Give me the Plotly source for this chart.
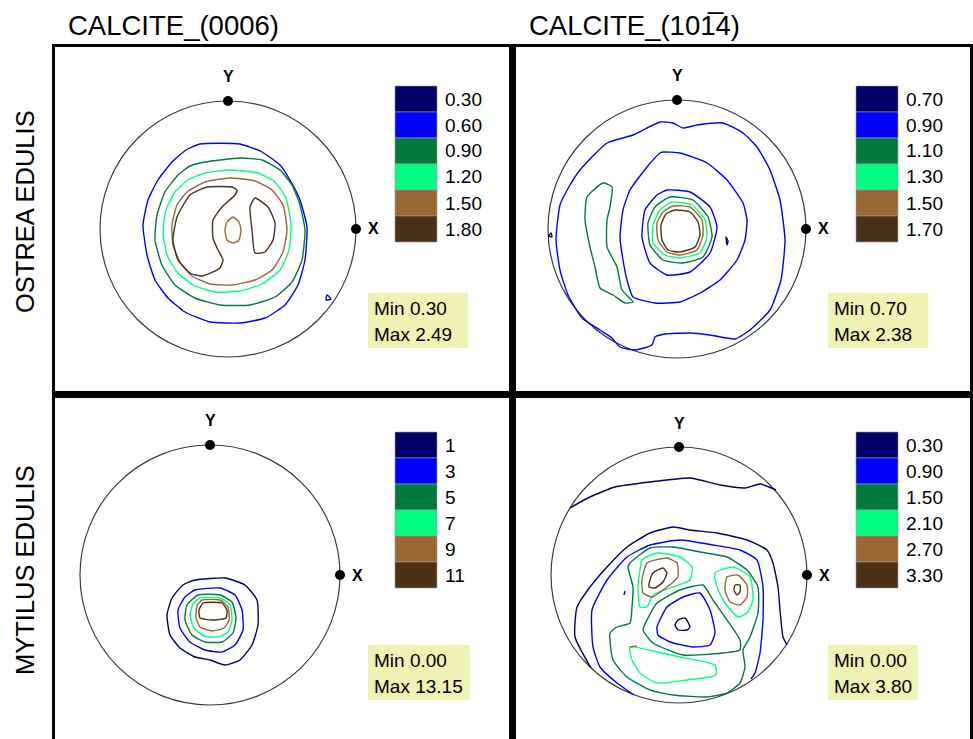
import plotly.graph_objects as go

W, H = 973, 739

# ---------------- DATA ----------------
TITLES = ["CALCITE_(0006)", "CALCITE_(101\u03054)"]
ROWS = ["OSTREA EDULIS", "MYTILUS EDULIS"]
LEVEL_COLORS = ["#000066", "#0000ff", "#007a3d", "#00ff80", "#9a6633", "#4a3219"]

ostrea_0006_levels = ["0.30", "0.60", "0.90", "1.20", "1.50", "1.80"]
ostrea_1014_levels = ["0.70", "0.90", "1.10", "1.30", "1.50", "1.70"]
mytilus_0006_levels = ["1", "3", "5", "7", "9", "11"]
mytilus_1014_levels = ["0.30", "0.90", "1.50", "2.10", "2.70", "3.30"]

ostrea_0006_minmax = ("0.30", "2.49")
ostrea_1014_minmax = ("0.70", "2.38")
mytilus_0006_minmax = ("0.00", "13.15")
mytilus_1014_minmax = ("0.00", "3.80")

# contour vertices: (x, y) in projection units (circle radius = READ_R)
# ---- Ostrea edulis, (0006)
o06_l1 = [(-28,85),(12,85),(34,77),(52,64),(62,49),(72,29),(79,2),(77,-31),(70,-56),(57,-76),(37,-89),(12,-94),
          (-18,-93),(-43,-83),(-60,-69),(-73,-51),(-81,-26),(-85,4),(-80,29),(-70,49),(-56,67),(-42,79)]
o06_l1b = [(99,-66),(103,-70),(98,-71)]
o06_l2 = [(-23,67),(12,71),(34,69),(52,59),(64,44),(72,24),(77,-1),(74,-31),(64,-53),(47,-68),(22,-76),(-8,-76),
          (-33,-69),(-53,-56),(-66,-36),(-73,-11),(-71,14),(-63,37),(-50,54),(-38,63)]
o06_l3 = [(-23,56),(2,59),(30,56),(47,47),(58,31),(63,4),(61,-21),(52,-41),(34,-55),(12,-62),(-13,-63),(-35,-56),
          (-51,-43),(-61,-26),(-65,-3),(-62,19),(-53,37),(-40,49)]
o06_l4 = [(-23,47),(2,51),(27,48),(44,39),(55,24),(59,-1),(55,-23),(44,-41),(27,-51),(4,-56),(-18,-55),(-36,-47),
          (-48,-33),(-55,-16),(-56,4),(-51,24),(-41,37)]
o06_l4b = [(5,12),(11,7),(13,-1),(11,-11),(5,-14),(-1,-11),(-3,-1),(-1,7)]
o06_l5a = [(4,42),(-21,42),(-38,34),(-51,12),(-55,-11),(-50,-31),(-38,-44),(-26,-47),(-8,-39),(-5,-31),(-10,-21),
           (-15,-9),(-15,9),(-6,22),(7,34),(9,39)]
o06_l5b = [(27,31),(40,22),(47,6),(45,-11),(37,-23),(27,-24),(24,-1),(22,22)]

# ---- Ostrea edulis, (10-14)
o14_l1a = [(49,-8),(51,-12),(50,-16)]
o14_l1b = [(-126,-4),(-128,-7),(-125,-8)]
o14_l2a = [(-97,59),(-70,86),(-44,94),(-17,107),(-4,106),(6,101),(20,104),(46,106),(66,96),(80,82),(93,59),(103,29),
           (108,-11),(104,-51),(93,-81),(73,-101),(58,-110),(33,-106),(13,-104),(-12,-105),(-22,-108),(-25,-116),
           (-42,-121),(-57,-118),(-65,-109),(-77,-101),(-95,-89),(-109,-66),(-117,-41),(-121,-11),(-117,24),(-107,44)]
o14_l2b = [(-14,77),(3,76),(30,66),(50,49),(66,26),(70,9),(68,-11),(60,-31),(43,-51),(23,-64),(3,-73),(-22,-74),
           (-44,-68),(-50,-51),(-54,-31),(-57,-8),(-54,19),(-47,39),(-30,62),(-17,76)]
o14_l2c = [(-10,39),(13,37),(33,22),(40,2),(33,-24),(13,-43),(-10,-46),(-27,-34),(-35,-8),(-32,19),(-20,34)]
o14_l3a = [(-7,32),(16,29),(31,12),(35,-8),(26,-28),(6,-34),(-14,-31),(-27,-16),(-29,6),(-22,22)]
o14_l3b = [(-90,32),(-74,46),(-65,42),(-67,22),(-70,9),(-70,-18),(-60,-38),(-55,-61),(-44,-73),(-52,-74),(-64,-66),
           (-77,-59),(-82,-38),(-87,-18),(-92,9)]
o14_l4 = [(-5,27),(15,24),(28,9),(30,-8),(23,-24),(3,-29),(-12,-26),(-24,-14),(-24,4),(-17,19)]
o14_l5 = [(-4,23),(13,22),(25,9),(26,-6),(20,-21),(3,-26),(-10,-23),(-19,-11),(-20,6),(-14,17)]
o14_l6 = [(-2,19),(13,17),(21,7),(23,-6),(18,-18),(3,-23),(-9,-21),(-15,-11),(-16,4),(-11,15)]

# ---- Mytilus edulis, (0006)
m06_l1 = [(-15,-5),(15,-3),(35,-10),(47,-25),(48,-50),(42,-70),(30,-85),(15,-90),(0,-85),(-15,-82),(-30,-73),
          (-40,-60),(-43,-40),(-38,-23),(-27,-10)]
m06_l2 = [(-15,-15),(10,-13),(25,-20),(32,-35),(33,-55),(25,-70),(12,-77),(-5,-75),(-20,-67),(-30,-53),(-32,-35),
          (-25,-22)]
m06_l3 = [(-12,-20),(10,-20),(22,-27),(26,-43),(23,-58),(12,-67),(-5,-67),(-18,-60),(-25,-45),(-23,-30)]
m06_l4 = [(-10,-23),(10,-23),(20,-30),(22,-45),(18,-57),(8,-62),(-6,-61),(-16,-53),(-20,-40),(-17,-29)]
m06_l5 = [(-8,-25),(10,-25),(18,-32),(19,-45),(14,-53),(2,-56),(-10,-52),(-14,-42),(-13,-31)]
m06_l6 = [(-7,-28),(12,-28),(17,-35),(16,-43),(2,-45),(-10,-43),(-11,-35)]

# ---- Mytilus edulis, (10-14)
m14_l1a = [(-109,67),(-89,78),(-64,88),(-29,93),(11,97),(41,90),(66,87),(81,91),(97,85)]
m14_l1b = [(-88,-93),(-104,-62),(-102,-32),(-89,-12),(-72,8),(-52,28),(-29,42),(-6,48),(11,45),(38,42),(68,35),
           (88,25),(94,12),(99,-12),(101,-35),(104,-62),(108,-70)]
m14_l1c = [(-1,-45),(6,-43),(11,-52),(8,-55),(-1,-55),(-4,-50)]
m14_l2a = [(-45,-120),(-62,-108),(-79,-92),(-86,-72),(-87,-35),(-72,-5),(-52,18),(-29,30),(1,35),(34,30),(61,25),
           (78,15),(84,-12),(84,-45),(81,-78),(76,-98),(72,-104)]
m14_l2b = [(-22,-52),(-12,-32),(4,-22),(21,-18),(31,-35),(36,-58),(31,-70),(14,-72),(-9,-67),(-21,-60)]
m14_l2c = [(-54,-16),(-55,-20)]
m14_l3a = [(-49,12),(-29,27),(-6,28),(21,23),(48,18),(68,5),(79,-12),(79,-38),(71,-62),(64,-75),(66,-92),(61,-108),
           (48,-118),(28,-122),(-6,-120),(-29,-115),(-52,-102),(-66,-85),(-69,-58),(-62,-52),(-49,-48),(-47,-32),
           (-46,-12),(-51,8)]
m14_l3b = [(-32,-45),(-22,-28),(1,-15),(24,-10),(34,-25),(48,-45),(61,-65),(61,-75),(44,-78),(4,-80),(-26,-68),
           (-36,-55)]
m14_l4a = [(-37,15),(-22,22),(1,18),(13,8),(11,-5),(-6,-12),(-26,-20),(-32,-32),(-39,-32),(-41,-12),(-39,5)]
m14_l4b = [(36,2),(54,8),(71,-2),(74,-25),(68,-38),(59,-42),(46,-28),(38,-12)]
m14_l4c = [(-49,-72),(-22,-77),(1,-82),(36,-90),(37,-100),(8,-105),(-22,-108),(-39,-98),(-47,-85)]
m14_l5a = [(-32,12),(-12,17),(-2,12),(-1,-2),(-12,-12),(-27,-22),(-36,-18),(-37,-5)]
m14_l5b = [(48,-2),(59,0),(68,-10),(68,-22),(61,-30),(51,-27),(46,-15)]
m14_l5c = [(-49,-72),(-42,-71)]
m14_l6a = [(-26,2),(-16,7),(-12,2),(-16,-7),(-24,-13),(-30,-12),(-29,-5)]
m14_l6b = [(56,-10),(61,-10),(61,-17),(58,-20),(55,-15)]

# (level index, vertices, closed)
ostrea_0006_lines = [(1, o06_l1, True), (1, o06_l1b, True), (2, o06_l2, True), (3, o06_l3, True),
                     (4, o06_l4, True), (4, o06_l4b, True), (5, o06_l5a, True), (5, o06_l5b, True)]
ostrea_1014_lines = [(0, o14_l1a, True), (0, o14_l1b, True), (1, o14_l2a, True), (1, o14_l2b, True),
                     (1, o14_l2c, True), (2, o14_l3a, True), (2, o14_l3b, True), (3, o14_l4, True),
                     (4, o14_l5, True), (5, o14_l6, True)]
mytilus_0006_lines = [(0, m06_l1, True), (1, m06_l2, True), (2, m06_l3, True), (3, m06_l4, True),
                      (4, m06_l5, True), (5, m06_l6, True)]
mytilus_1014_lines = [(0, m14_l1a, False), (0, m14_l1b, False), (0, m14_l1c, True), (1, m14_l2a, False),
                      (1, m14_l2b, True), (1, m14_l2c, False), (2, m14_l3a, True), (2, m14_l3b, True),
                      (3, m14_l4a, True), (3, m14_l4b, True), (3, m14_l4c, True), (4, m14_l5a, True),
                      (4, m14_l5b, True), (4, m14_l5c, False), (5, m14_l6a, True), (5, m14_l6b, True)]

# ---------------- LAYOUT ----------------
PANELS = [
    dict(cx=228, cy=229, r=128, R=128, lines=ostrea_0006_lines, levels=ostrea_0006_levels,
         mm=ostrea_0006_minmax, leg=(395, 86), mmbox=(368, 293, 468, 348)),
    dict(cx=677, cy=229, r=129, R=129, lines=ostrea_1014_lines, levels=ostrea_1014_levels,
         mm=ostrea_1014_minmax, leg=(856, 86), mmbox=(828, 293, 928, 348)),
    dict(cx=210, cy=575, r=130, R=130, lines=mytilus_0006_lines, levels=mytilus_0006_levels,
         mm=mytilus_0006_minmax, leg=(395, 432), mmbox=(368, 645, 470, 700)),
    dict(cx=679, cy=575, r=128, R=128, lines=mytilus_1014_lines, levels=mytilus_1014_levels,
         mm=mytilus_1014_minmax, leg=(856, 432), mmbox=(828, 645, 918, 700)),
]
PAD = 1.08
FONT = "Liberation Sans, Arial, sans-serif"


def px(x):
    return x / W


def py(y):
    return 1 - y / H


fig = go.Figure()
layout = dict(width=W, height=H, margin=dict(l=0, r=0, t=0, b=0), showlegend=False,
              paper_bgcolor="white", plot_bgcolor="rgba(0,0,0,0)")
shapes = []
annotations = []

for i, p in enumerate(PANELS):
    n = "" if i == 0 else str(i + 1)
    xa, ya = "x" + n, "y" + n
    layout["xaxis" + n] = dict(domain=[px(p["cx"] - PAD * p["r"]), px(p["cx"] + PAD * p["r"])],
                               range=[-PAD, PAD], visible=False, fixedrange=True)
    layout["yaxis" + n] = dict(domain=[py(p["cy"] + PAD * p["r"]), py(p["cy"] - PAD * p["r"])],
                               range=[-PAD, PAD], visible=False, fixedrange=True)
    shapes.append(dict(type="circle", xref=xa, yref=ya, x0=-1, y0=-1, x1=1, y1=1,
                       line=dict(color="#3a3a3a", width=1.2), layer="below"))
    for lev, pts, closed in p["lines"]:
        xs = [q[0] / p["R"] for q in pts]
        ys = [q[1] / p["R"] for q in pts]
        if closed:
            xs.append(xs[0])
            ys.append(ys[0])
        fig.add_trace(go.Scatter(x=xs, y=ys, mode="lines", xaxis=xa, yaxis=ya,
                                 line=dict(color=LEVEL_COLORS[lev], width=1.4, shape="spline", smoothing=0.5),
                                 hoverinfo="skip"))
    fig.add_trace(go.Scatter(x=[0, 1], y=[1, 0], mode="markers", xaxis=xa, yaxis=ya,
                             marker=dict(color="black", size=10), hoverinfo="skip", cliponaxis=False))
    annotations.append(dict(x=0, y=1, xref=xa, yref=ya, text="<b>Y</b>", showarrow=False, yshift=24,
                            font=dict(family=FONT, size=16, color="black")))
    annotations.append(dict(x=1, y=0, xref=xa, yref=ya, text="<b>X</b>", showarrow=False, xshift=17,
                            font=dict(family=FONT, size=16, color="black")))
    lx, ly = p["leg"]
    for k, lab in enumerate(p["levels"]):
        shapes.append(dict(type="rect", xref="paper", yref="paper", x0=px(lx), x1=px(lx + 42),
                           y0=py(ly + 26 * (k + 1)), y1=py(ly + 26 * k),
                           fillcolor=LEVEL_COLORS[k], line=dict(color="#9a9a9a", width=0.6)))
        annotations.append(dict(x=px(lx + 48), y=py(ly + 26 * k + 13), xref="paper", yref="paper",
                                text=lab, showarrow=False, xanchor="left", yanchor="middle",
                                font=dict(family=FONT, size=19, color="black")))
    bx0, by0, bx1, by1 = p["mmbox"]
    shapes.append(dict(type="rect", xref="paper", yref="paper", x0=px(bx0), x1=px(bx1),
                       y0=py(by1), y1=py(by0), fillcolor="#eef3b4", line=dict(width=0)))
    annotations.append(dict(x=px(bx0 + 4), y=py(by0 + 15), xref="paper", yref="paper",
                            text="Min " + p["mm"][0], showarrow=False, xanchor="left", yanchor="middle",
                            font=dict(family=FONT, size=19, color="black")))
    annotations.append(dict(x=px(bx0 + 4), y=py(by0 + 41), xref="paper", yref="paper",
                            text="Max " + p["mm"][1], showarrow=False, xanchor="left", yanchor="middle",
                            font=dict(family=FONT, size=19, color="black")))

frame = [
    (53.5, 45, 53.5, 739, 3), (52, 45.5, 973, 45.5, 3), (971.5, 45, 971.5, 739, 3),
    (512.5, 45, 512.5, 739, 7), (52, 394.5, 973, 394.5, 7),
]
for x0, y0, x1, y1, w in frame:
    shapes.append(dict(type="line", xref="paper", yref="paper", x0=px(x0), y0=py(y0), x1=px(x1), y1=py(y1),
                       line=dict(color="black", width=w)))

for t, x in zip(TITLES, [66, 527]):
    annotations.append(dict(x=px(x), y=py(25), xref="paper", yref="paper", text=t, showarrow=False,
                            xanchor="left", yanchor="middle", font=dict(family=FONT, size=27.5, color="black")))
for t, y in zip(ROWS, [212, 570]):
    annotations.append(dict(x=px(25), y=py(y), xref="paper", yref="paper", text=t, showarrow=False,
                            textangle=-90, xanchor="center", yanchor="middle",
                            font=dict(family=FONT, size=25.5, color="black")))

layout["shapes"] = shapes
layout["annotations"] = annotations
fig.update_layout(**layout)
fig.write_html("out.html", config={"displayModeBar": False},
               post_script="document.body.style.margin='0px';document.body.style.overflow='hidden';")
